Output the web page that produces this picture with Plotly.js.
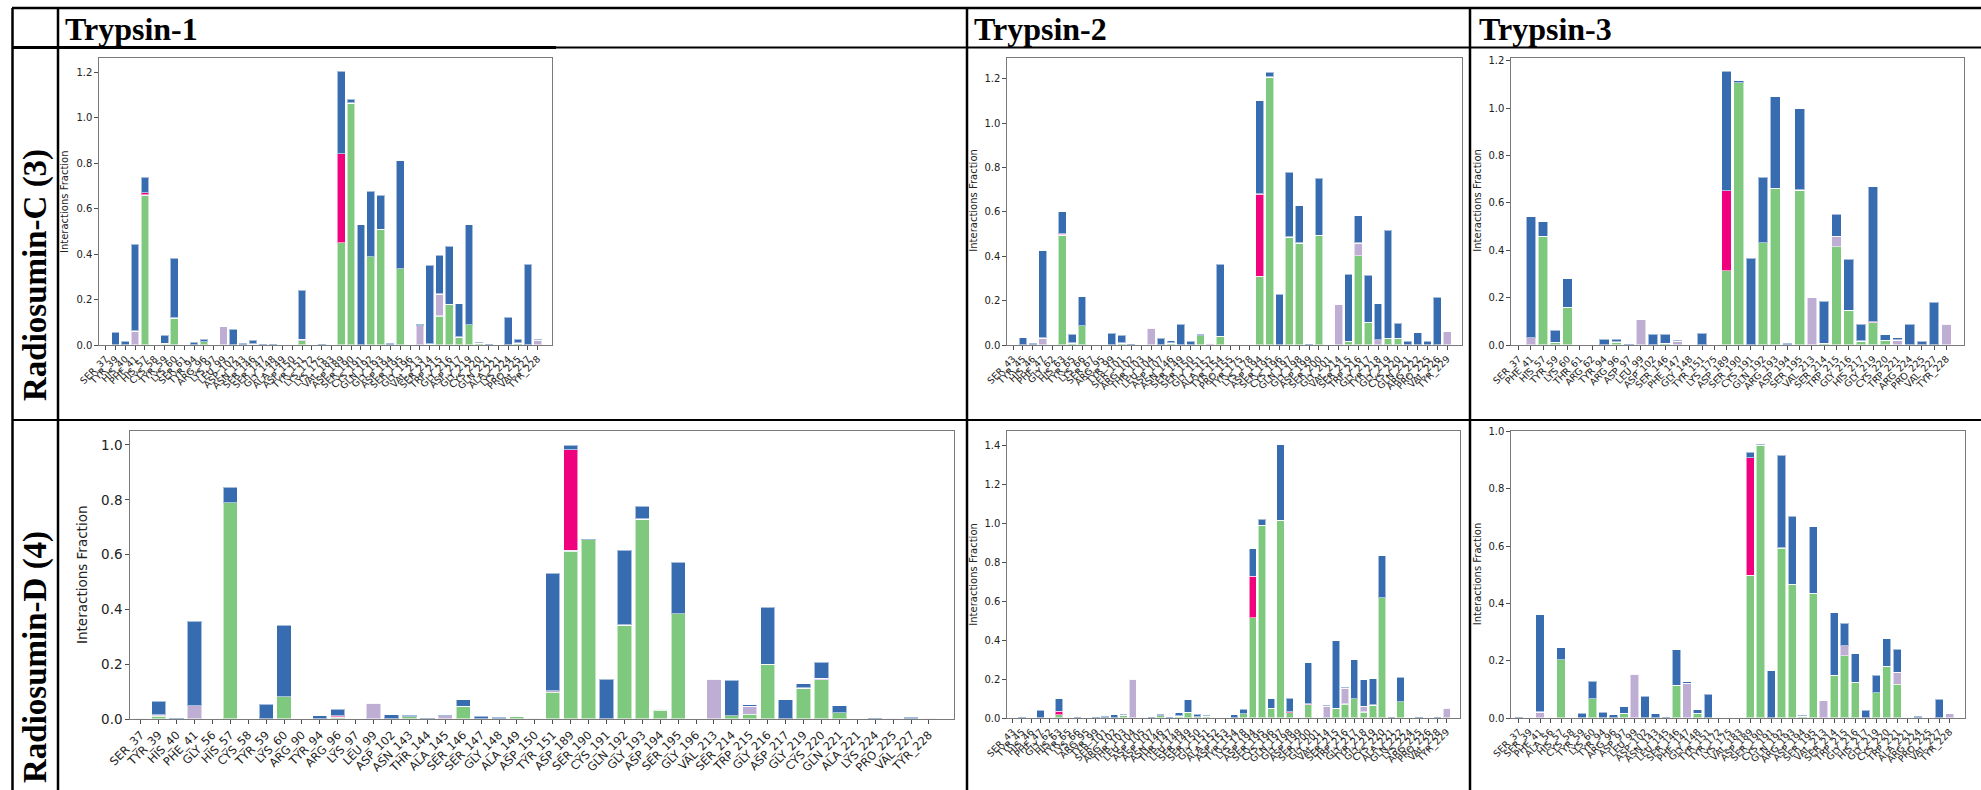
<!DOCTYPE html>
<html><head><meta charset="utf-8">
<script src="https://cdn.plot.ly/plotly-3.0.1.min.js"></script>
<style>html,body{margin:0;padding:0;background:#fff}#chart{width:1981px;height:790px}</style>
</head><body><div id="chart"></div>
<script>
// ---------- Column / row headers ----------
const columnTitles = ['Trypsin-1', 'Trypsin-2', 'Trypsin-3'];
const rowTitles = ['Radiosumin-C (3)', 'Radiosumin-D (4)'];
const yAxisTitle = 'Interactions Fraction';
const seriesNames = ['H-bonds', 'Hydrophobic', 'Ionic', 'Water bridges'];

// ---------- Radiosumin-C (3) / Trypsin-1 ----------
const c1_res = ['SER_37','TYR_39','HIS_40','PHE_41','HIS_57','CYS_58','TYR_59','LYS_60','SER_61','TYR_94','ARG_96','LYS_97','LEU_99','ASP_102','ASN_143','SER_146','SER_147','GLY_148','ALA_149','ASP_150','TYR_151','LYS_172','LYS_175','VAL_183','ASP_189','SER_190','CYS_191','GLN_192','GLY_193','ASP_194','SER_195','GLY_196','VAL_213','SER_214','TRP_215','GLY_216','ASP_217','GLY_219','CYS_220','GLN_221','ALA_221','LYS_224','PRO_225','VAL_227','TYR_228'];
const c1_hbond = [0,0,0,0,0.661,0,0.004,0.119,0,0,0.015,0,0,0,0,0.004,0,0,0,0,0.019,0,0,0,0.451,1.066,0,0.389,0.510,0,0.336,0,0,0.004,0.128,0.179,0.035,0.090,0.007,0,0,0,0.009,0,0];
const c1_hydro = [0,0,0,0.062,0,0,0.003,0,0,0,0,0,0.081,0,0,0,0,0,0,0,0.006,0,0,0,0,0,0,0,0,0,0,0,0.085,0,0.097,0,0,0,0,0,0,0,0,0,0.022];
const c1_ionic = [0,0,0,0,0.010,0,0,0,0,0,0,0,0,0,0,0,0,0,0,0,0,0,0,0,0.391,0,0,0,0,0,0,0,0,0,0,0,0,0,0,0,0,0,0,0,0];
const c1_water = [0,0.056,0.018,0.382,0.069,0,0.036,0.263,0,0.012,0.010,0,0,0.069,0.007,0.018,0.003,0.005,0,0,0.216,0,0.003,0,0.364,0.017,0.530,0.288,0.150,0.007,0.476,0,0.006,0.347,0.170,0.256,0.147,0.440,0.006,0.003,0,0.123,0.016,0.355,0.004];

// ---------- Radiosumin-C (3) / Trypsin-2 ----------
const c2_res = ['SER_43','TYR_45','HIS_46','PHE_47','GLY_62','HIS_63','TYR_65','LYS_66','SER_67','ARG_95','TYR_99','SER_101','ARG_102','THR_103','LEU_104','ASP_107','ASN_146','SER_149','SER_150','GLY_151','ALA_152','TYR_154','PRO_155','TYR_175','LYS_178','ASP_194','SER_195','CYS_196','GLN_197','GLY_198','ASP_199','SER_200','GLY_201','VAL_214','SER_215','TRP_216','GLY_217','TYR_218','GLY_219','CYS_220','GLN_221','ARG_222','PRO_225','VAL_226','TYR_229'];
const c2_hbond = [0,0,0,0,0,0.495,0.009,0.087,0,0,0,0.009,0,0,0,0,0.009,0,0,0.042,0,0.039,0,0,0,0.310,1.207,0,0.487,0.460,0,0.495,0,0,0.016,0.402,0.103,0,0.031,0.031,0,0,0,0,0];
const c2_hydro = [0,0,0,0.032,0,0,0,0,0,0,0,0,0,0,0.075,0,0,0,0,0,0.008,0,0,0,0,0,0,0,0,0,0,0,0,0.181,0,0.058,0,0.024,0,0,0,0,0,0,0.060];
const c2_ionic = [0,0,0,0,0,0.005,0,0,0,0,0,0,0,0,0,0,0,0,0,0,0,0,0,0,0,0.370,0,0,0,0,0,0,0,0,0,0,0,0,0,0,0,0,0,0,0];
const c2_water = [0,0.033,0.009,0.393,0,0.101,0.039,0.131,0,0,0.053,0.035,0.005,0,0,0.032,0.011,0.095,0.018,0.006,0,0.324,0,0,0,0.421,0.023,0.228,0.291,0.168,0.004,0.256,0,0,0.302,0.122,0.212,0.162,0.485,0.066,0.018,0.055,0.018,0.216,0];

// ---------- Radiosumin-C (3) / Trypsin-3 ----------
const c3_res = ['SER_37','PHE_41','HIS_57','TYR_59','LYS_60','THR_61','ARG_62','TYR_94','ARG_96','ASP_97','LEU_99','ASP_102','SER_146','PHE_147','GLY_148','TYR_151','LYS_175','ASP_189','SER_190','CYS_191','GLN_192','ARG_193','ASP_194','SER_195','VAL_213','SER_214','TRP_215','GLY_216','HIS_217','GLY_219','CYS_220','TRP_221','ARG_224','PRO_225','VAL_227','TYR_228'];
const c3_hbond = [0,0,0.458,0.011,0.159,0,0,0,0.013,0,0,0,0.007,0,0,0,0,0.314,1.106,0,0.432,0.661,0,0.654,0,0.008,0.415,0.146,0.017,0.094,0.020,0,0,0,0,0];
const c3_hydro = [0,0.030,0,0,0,0,0,0,0,0,0.107,0,0,0.015,0,0,0,0,0,0,0,0,0,0,0.200,0,0.043,0,0,0,0,0.021,0,0,0,0.089];
const c3_ionic = [0,0,0,0,0,0,0,0,0,0,0,0,0,0,0,0,0,0.337,0,0,0,0,0,0,0,0,0,0,0,0.003,0,0,0,0,0,0];
const c3_water = [0,0.512,0.063,0.052,0.121,0,0,0.025,0.012,0.003,0,0.045,0.038,0.005,0.002,0.049,0.002,0.504,0.009,0.366,0.275,0.387,0.007,0.343,0,0.178,0.095,0.216,0.072,0.571,0.024,0.009,0.089,0.015,0.180,0];

// ---------- Radiosumin-D (4) / Trypsin-1 ----------
const d1_res = ['SER_37','TYR_39','HIS_40','PHE_41','GLY_56','HIS_57','CYS_58','TYR_59','LYS_60','ARG_90','TYR_94','ARG_96','LYS_97','LEU_99','ASP_102','ASN_143','THR_144','ALA_145','SER_146','SER_147','GLY_148','ALA_149','ASP_150','TYR_151','ASP_189','SER_190','CYS_191','GLN_192','GLY_193','ASP_194','SER_195','GLY_196','VAL_213','SER_214','TRP_215','GLY_216','ASP_217','GLY_219','CYS_220','GLN_221','ALA_221','LYS_224','PRO_225','VAL_227','TYR_228'];
const d1_hbond = [0,0.011,0,0,0,0.789,0,0,0.081,0,0,0.005,0,0,0,0.009,0,0,0.046,0,0,0.011,0,0.098,0.613,0.655,0,0.343,0.730,0.033,0.385,0,0,0.012,0.017,0.199,0,0.113,0.143,0.023,0,0,0,0,0];
const d1_hydro = [0.003,0.005,0,0.049,0,0,0,0,0,0,0,0.002,0,0.057,0,0,0,0.012,0,0,0,0,0.003,0.005,0.003,0,0,0,0,0.002,0,0,0.146,0,0.030,0,0,0,0.005,0,0,0,0.003,0,0.003];
const d1_ionic = [0,0,0,0,0,0,0,0,0,0,0,0.005,0,0,0,0,0,0,0,0,0,0,0,0,0.367,0,0,0,0,0,0,0,0,0,0,0,0,0,0,0,0,0,0,0,0];
const d1_water = [0,0.048,0.004,0.307,0,0.057,0,0.055,0.262,0,0.012,0.023,0,0,0.015,0.004,0.005,0.003,0.024,0.011,0.007,0,0,0.429,0.017,0.003,0.145,0.273,0.046,0,0.188,0,0,0.129,0.005,0.208,0.070,0.016,0.060,0.026,0,0.004,0,0.007,0];

// ---------- Radiosumin-D (4) / Trypsin-2 ----------
const d2_res = ['SER_43','TYR_45','HIS_46','PHE_47','GLY_62','HIS_63','TYR_65','LYS_66','ARG_95','TYR_99','SER_101','ARG_102','THR_103','LEU_104','ASP_105','ASP_107','ASN_146','THR_147','LEU_148','SER_149','SER_150','GLY_151','ALA_152','ASP_153','TYR_154','LYS_178','ASP_194','SER_195','CYS_196','GLN_197','GLY_198','ASP_199','SER_200','GLY_201','VAL_214','SER_215','TRP_216','GLY_217','TYR_218','GLY_219','CYS_220','ALA_221','GLN_222','LYS_224','ARG_225','PRO_226','VAL_228','TYR_229'];
const d2_hbond = [0,0,0,0,0,0.017,0,0,0,0,0,0,0.014,0,0,0,0.012,0,0.010,0.029,0.007,0.010,0,0,0,0.022,0.515,0.989,0.050,1.013,0.027,0.003,0.068,0,0,0.050,0.072,0.099,0.031,0.067,0.618,0,0.084,0,0,0,0,0];
const d2_hydro = [0,0,0,0,0,0,0,0,0,0,0,0,0,0.200,0,0,0,0,0,0,0,0,0,0,0,0,0,0,0,0,0,0,0,0,0.062,0,0.082,0,0.029,0,0,0,0,0,0,0,0,0.050];
const d2_ionic = [0,0,0,0,0,0.017,0,0,0,0,0,0,0,0,0,0,0,0,0,0,0,0,0,0,0,0,0.212,0,0,0,0.005,0,0.004,0,0,0,0,0,0,0,0,0,0,0,0,0,0,0];
const d2_water = [0,0.003,0,0.039,0,0.065,0,0.007,0,0.003,0.009,0.017,0.005,0,0,0.003,0.008,0.003,0.017,0.065,0.012,0.004,0,0,0.017,0.022,0.142,0.031,0.048,0.389,0.071,0,0.212,0,0.003,0.347,0.003,0.201,0.137,0.135,0.214,0.003,0.125,0,0.007,0,0.003,0];

// ---------- Radiosumin-D (4) / Trypsin-3 ----------
const d3_res = ['SER_37','SER_39','PHE_41','ALA_56','HIS_57','CYS_58','TYR_59','LYS_60','TYR_94','ARG_96','ASP_97','LEU_99','ASP_102','ASN_143','LEU_145','SER_146','PHE_147','GLY_148','TYR_151','TYR_172','LYS_175','VAL_183','ASP_189','SER_190','CYS_191','GLN_192','ARG_193','ASP_194','SER_195','VAL_213','SER_214','TRP_215','GLY_216','HIS_217','GLY_219','CYS_220','TRP_221','ALA_221','ARG_224','PRO_225','VAL_227','TYR_228'];
const d3_hbond = [0,0,0,0,0.204,0,0,0.068,0,0,0.017,0,0,0,0,0.114,0,0.017,0,0,0,0,0.498,0.952,0,0.593,0.467,0.007,0.436,0,0.149,0.217,0.125,0,0.089,0.181,0.117,0,0,0,0,0];
const d3_hydro = [0,0,0.021,0,0,0,0,0,0,0,0,0.153,0,0,0,0,0.121,0,0,0,0,0,0,0,0,0.002,0,0,0,0.060,0,0.036,0,0,0,0,0.042,0,0,0,0,0.015];
const d3_ionic = [0,0,0,0,0,0,0,0,0,0,0,0,0,0,0,0,0,0,0,0,0,0,0.411,0,0,0,0,0,0,0,0,0,0,0,0,0,0,0,0,0,0,0];
const d3_water = [0.002,0,0.339,0,0.041,0,0.017,0.060,0.021,0.012,0.023,0,0.077,0.015,0.003,0.124,0.006,0.012,0.084,0,0,0,0.019,0.004,0.165,0.323,0.238,0.002,0.232,0,0.218,0.077,0.100,0.027,0.060,0.096,0.082,0,0.006,0,0.066,0];

// ---------- Drawing ----------
const W = 1981, H = 790;
const px = x => x / W;
const py = y => 1 - y / H;
const colors = ['#7fc97f', '#beaed4', '#f0027f', '#386cb0'];

const panels = [
  {res: c1_res, s: [c1_hbond, c1_hydro, c1_ionic, c1_water], box: [99, 552, 58, 345], yr: [0, 1.264], xr: [-0.68, 45.46], fs: 10, xfs: 9.5, lab: [64.5, 201.5]},
  {res: c2_res, s: [c2_hbond, c2_hydro, c2_ionic, c2_water], box: [1007, 1462, 58, 345], yr: [0, 1.293], xr: [-0.61, 45.5], fs: 10, xfs: 9.5, lab: [972.7, 200]},
  {res: c3_res, s: [c3_hbond, c3_hydro, c3_ionic, c3_water], box: [1511, 1964, 58, 345], yr: [0, 1.211], xr: [-0.63, 36.44], fs: 10, xfs: 9.5, lab: [1476.7, 200]},
  {res: d1_res, s: [d1_hbond, d1_hydro, d1_ionic, d1_water], box: [130, 954, 431, 719], yr: [0, 1.051], xr: [-0.6, 45.4], fs: 13.5, xfs: 11.5, lab: [82, 575]},
  {res: d2_res, s: [d2_hbond, d2_hydro, d2_ionic, d2_water], box: [1007, 1460, 431, 718], yr: [0, 1.472], xr: [-0.62, 48.44], fs: 10, xfs: 9.5, lab: [972.7, 574]},
  {res: d3_res, s: [d3_hbond, d3_hydro, d3_ionic, d3_water], box: [1511, 1965, 431, 718], yr: [0, 1.002], xr: [-0.76, 42.45], fs: 10, xfs: 9.5, lab: [1477.3, 574]}
];

const traces = [];
const layout = {
  width: W, height: H,
  margin: {l: 0, r: 0, t: 0, b: 0},
  paper_bgcolor: '#fff', plot_bgcolor: '#fff',
  barmode: 'stack', showlegend: false,
  font: {family: 'DejaVu Sans', color: '#222'},
  annotations: [], shapes: []
};

panels.forEach((p, i) => {
  const k = i === 0 ? '' : String(i + 1);
  p.s.forEach((vals, j) => {
    traces.push({
      type: 'bar', x: p.res, y: vals, name: seriesNames[j],
      xaxis: 'x' + k, yaxis: 'y' + k, width: 0.8,
      marker: {color: colors[j], line: {color: 'rgba(255,255,255,0.55)', width: 1.2}},
      hoverinfo: 'x+y+name'
    });
  });
  const [l, r, t, b] = p.box;
  layout['xaxis' + k] = {
    domain: [px(l), px(r)], anchor: 'y' + k, type: 'category',
    categoryorder: 'array', categoryarray: p.res,
    range: p.xr, tickmode: 'array', tickvals: p.res, ticktext: p.res,
    tickangle: -45, tickfont: {family: 'DejaVu Sans', size: p.xfs, color: '#222'},
    ticks: 'outside', ticklen: 3.5, tickwidth: 0.8, tickcolor: '#222',
    showline: true, mirror: true, linecolor: '#7a7a7a', linewidth: 1.2,
    showgrid: false, zeroline: false
  };
  layout['yaxis' + k] = {
    domain: [py(b), py(t)], anchor: 'x' + k, range: p.yr,
    tickmode: 'linear', tick0: 0, dtick: 0.2, tickformat: '.1f',
    tickfont: {family: 'DejaVu Sans', size: p.fs, color: '#222'},
    ticks: 'outside', ticklen: 3.5, tickwidth: 0.8, tickcolor: '#222',
    showline: true, mirror: true, linecolor: '#7a7a7a', linewidth: 1.2,
    showgrid: false, zeroline: false
  };
  layout.annotations.push({
    text: yAxisTitle, textangle: -90, xref: 'paper', yref: 'paper',
    x: px(p.lab[0]), y: py(p.lab[1]), xanchor: 'center', yanchor: 'middle',
    showarrow: false, font: {family: 'DejaVu Sans', size: p.fs, color: '#222'}
  });
});

// Column headers
const headerX = [63, 972, 1477];
columnTitles.forEach((t, i) => {
  layout.annotations.push({
    text: '<b>' + t + '</b>', xref: 'paper', yref: 'paper',
    x: px(headerX[i]), y: py(29), xanchor: 'left', yanchor: 'middle',
    showarrow: false, font: {family: 'Liberation Serif', size: 32, color: '#000'}
  });
});
// Row headers
const rowY = [275, 657];
rowTitles.forEach((t, i) => {
  layout.annotations.push({
    text: '<b>' + t + '</b>', textangle: -90, xref: 'paper', yref: 'paper',
    x: px(35), y: py(rowY[i]), xanchor: 'center', yanchor: 'middle',
    showarrow: false, font: {family: 'Liberation Serif', size: 33, color: '#000'}
  });
});

// Table rules
function hline(y, x0, x1, w) {
  layout.shapes.push({type: 'line', xref: 'paper', yref: 'paper', x0: px(x0), x1: px(x1), y0: py(y), y1: py(y), line: {color: '#000', width: w}});
}
function vline(x, y0, y1, w) {
  layout.shapes.push({type: 'line', xref: 'paper', yref: 'paper', x0: px(x), x1: px(x), y0: py(y0), y1: py(y1), line: {color: '#000', width: w}});
}
hline(8, 12, 1981, 2.5);
hline(47.5, 12, 1981, 1.8);
hline(47.5, 12, 556, 2.8);
hline(420, 12, 1981, 2);
vline(12.5, 8, 790, 2.5);
vline(58, 8, 790, 2.5);
vline(967, 8, 790, 2.5);
vline(1470, 8, 790, 2.5);

Plotly.newPlot('chart', traces, layout, {displayModeBar: false, staticPlot: true});
</script>
</body></html>
